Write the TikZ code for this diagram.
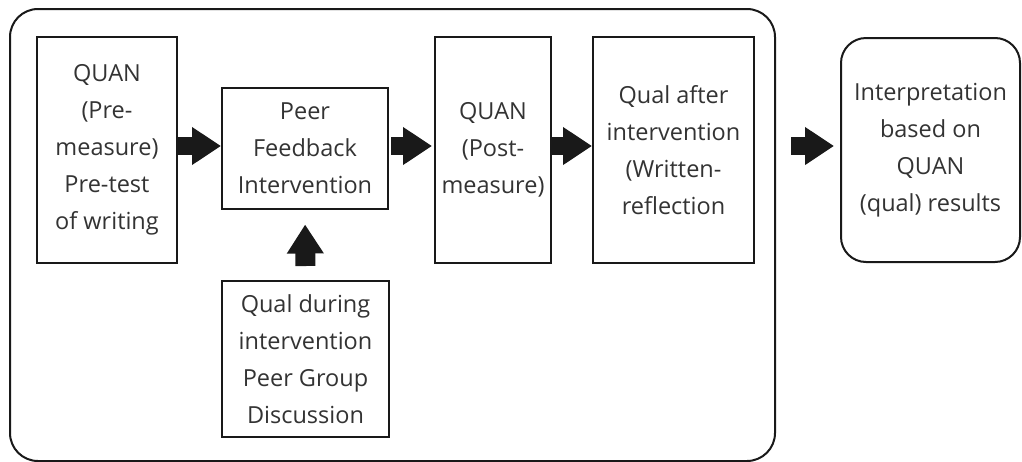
\documentclass[tikz,border=0pt]{standalone}
\usepackage{fontspec}
\setmainfont{Open Sans}
\usetikzlibrary{arrows.meta}
\tikzset{
  box/.style={draw=black!90, line width=2pt, inner sep=0pt, align=center,
    font=\fontsize{23.5}{37}\selectfont, text=black!80},
  blockarrow/.style={line width=18pt, black!90,
    -{Triangle[length=29pt,width=36pt]}},
}
\begin{document}
\begin{tikzpicture}[x=1pt,y=-1pt]
\useasboundingbox (0,0) rectangle (1022,461);
\node[box, rounded corners=28pt, minimum width=765pt, minimum height=452pt] (outer) at (392.5,235) {};
\node[box, minimum width=140pt, minimum height=226pt] (pre) at (107,150)
  {QUAN\\(Pre-\\measure)\\Pre-test\\of writing};
\node[box, minimum width=166pt, minimum height=121pt] (peer) at (305,148)
  {Peer\\Feedback\\Intervention};
\node[box, minimum width=116pt, minimum height=226pt] (post) at (493,150)
  {QUAN\\(Post-\\measure)};
\node[box, minimum width=161pt, minimum height=226pt] (after) at (673.5,150)
  {Qual after\\intervention\\(Written-\\reflection};
\node[box, minimum width=167pt, minimum height=156pt] (during) at (305.5,359)
  {Qual during\\intervention\\Peer Group\\Discussion};
\node[box, rounded corners=25pt, minimum width=179pt, minimum height=224pt] (interp) at (930.5,150)
  {Interpretation\\based on\\QUAN\\(qual) results};
\draw[blockarrow] (pre.east |- 0,146) -- (peer.west |- 0,146);
\draw[blockarrow, shorten <=2pt, shorten >=2pt] (peer.east |- 0,146) -- (post.west |- 0,146);
\draw[blockarrow] (post.east |- 0,146) -- (after.west |- 0,146);
\draw[blockarrow, shorten <=15pt, shorten >=6pt] (outer.east |- 0,146) -- (interp.west |- 0,146);
\draw[blockarrow, line width=20pt, -{Triangle[length=29pt,width=35pt]}, shorten <=14pt, shorten >=15pt] (during.north) -- (peer.south);
\end{tikzpicture}
\end{document}
